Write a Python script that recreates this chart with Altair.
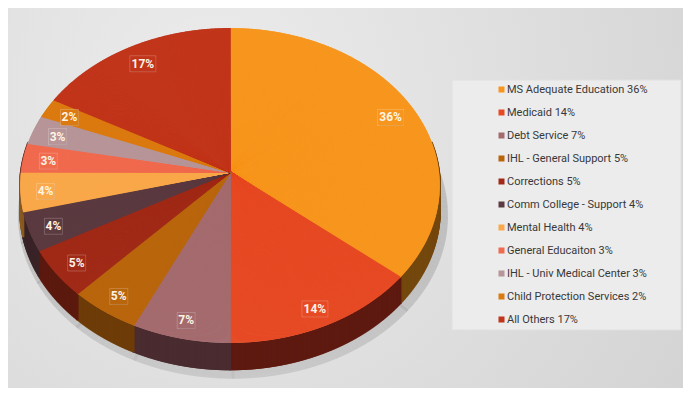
import altair as alt
import pandas as pd
import numpy as np

# ---------------- data ----------------
categories = ["MS Adequate Education", "Medicaid", "Debt Service", "IHL - General Support",
              "Corrections", "Comm College - Support", "Mental Health", "General Educaiton",
              "IHL - Univ Medical Center", "Child Protection Services", "All Others"]
shares = [36, 14, 7, 5, 5, 4, 4, 3, 3, 2, 17]
top_colors = ["#F7961E", "#E64A24", "#A46B6E", "#B9650C", "#A02A17", "#5B3A40",
              "#F9A84A", "#F06A4E", "#B79598", "#DB7A10", "#C1351A"]
side_colors = ["#74480E", "#5E1A10", "#4A2C30", "#6E3C08", "#5C1A0F", "#3A2428",
               "#8A5A22", "#7A3A2A", "#6A5254", "#6E3C08", "#6A1C0E"]

legend_labels = [f"{c} {s}%" for c, s in zip(categories, shares)]

# ---------------- geometry (styles) ----------------
W, H = 675, 380
CX, CY = 222, 164      # apex of the pie
A, B, K, D = 209, 156.3, 0.0857, 25
STEP = 0.07            # sampling step along the rim, in percent

starts = np.concatenate([[0], np.cumsum(shares)[:-1]])
rows = []
for c, lab, s, st, tc, sc in zip(categories, legend_labels, shares, starts, top_colors, side_colors):
    ts = np.append(np.arange(st, st + s, STEP), st + s)
    for t in ts:
        rows.append({"cat": c, "label": lab, "t": float(t), "top": tc, "side": sc})
samples = pd.DataFrame(rows)

slices = pd.DataFrame({
    "cat": categories, "share": shares, "start": starts,
    "top": top_colors, "side": side_colors,
})
slices["pct"] = slices["share"].astype(str) + "%"

xs = alt.Scale(domain=[0, W], nice=False, zero=False)
ys = alt.Scale(domain=[0, H], nice=False, zero=False, reverse=True)

# background
bg = alt.Chart(pd.DataFrame({"a": [0]})).mark_rect(
    fill=alt.Gradient(gradient="radial",
                      stops=[alt.GradientStop(color="#ECECEC", offset=0),
                             alt.GradientStop(color="#D3D3D3", offset=1)],
                      x1=0.3, y1=0.35, x2=0.3, y2=0.35, r1=0, r2=0.85)
).encode(x=alt.value(0), x2=alt.value(W), y=alt.value(0), y2=alt.value(H))

legend_box = alt.Chart(pd.DataFrame({"a": [0]})).mark_rect(
    fill="#ECECEC", stroke="#E0E0E0", strokeWidth=1
).encode(x=alt.value(444), x2=alt.value(673), y=alt.value(72), y2=alt.value(322))

base = alt.Chart(samples).transform_calculate(
    th="datum.t / 100 * 2 * PI",
).transform_calculate(
    s=f"1 / (1 + {K} * cos(datum.th))",
).transform_calculate(
    x=f"{CX} + {A} * sin(datum.th) * datum.s",
    y=f"{CY} - {B} * cos(datum.th) * datum.s",
    x0=f"{CX}",
    y0=f"{CY}",
).transform_calculate(
    yb=f"datum.y + {D} * datum.s",
    xsh=f"{CX} + 1.025 * {A} * sin(datum.th) * datum.s + 3",
    ysh=f"{CY} - 1.02 * {B} * cos(datum.th) * datum.s + {D} * datum.s + 5",
)

shadow = base.transform_filter("cos(datum.th) < 0.35").mark_rule(
    strokeWidth=3, color="#000000", opacity=0.035
).encode(
    x=alt.X("x0:Q", scale=xs, axis=None),
    y=alt.Y("y0:Q", scale=ys, axis=None),
    x2="xsh:Q", y2="ysh:Q",
)

side = base.transform_filter("cos(datum.th) < 0.2").mark_rule(strokeWidth=2.2).encode(
    x=alt.X("x:Q", scale=xs, axis=None),
    y=alt.Y("y:Q", scale=ys, axis=None),
    y2="yb:Q",
    color=alt.Color("side:N", scale=None),
)

top = base.mark_rule(strokeWidth=1.6).encode(
    x=alt.X("x0:Q", scale=xs, axis=None),
    y=alt.Y("y0:Q", scale=ys, axis=None),
    x2="x:Q",
    y2="y:Q",
    color=alt.Color("label:N",
                    scale=alt.Scale(domain=legend_labels, range=top_colors),
                    sort=legend_labels,
                    legend=alt.Legend(title=None, orient="none", legendX=488, legendY=76,
                                      symbolType="square", symbolSize=1, symbolStrokeWidth=5,
                                      labelFontSize=11, labelFont="Roboto", labelColor="#383838",
                                      labelLimit=300, rowPadding=2, padding=0, labelOffset=0)),
)

F, DY = 0.88, 2
lab = alt.Chart(slices).transform_calculate(
    th="(datum.start + datum.share / 2) / 100 * 2 * PI",
).transform_calculate(
    s=f"1 / (1 + {K} * cos(datum.th))",
).transform_calculate(
    lx=f"{CX} + {F} * {A} * sin(datum.th) * datum.s",
    ly=f"{CY} - {F} * {B} * cos(datum.th) * datum.s + {DY}",
    hw="length(datum.pct) * 4 + 1",
).transform_calculate(
    bx1="datum.lx - datum.hw", bx2="datum.lx + datum.hw",
    by1="datum.ly - 8", by2="datum.ly + 8",
)

shadow_box = lab.mark_rect(color="#000000", opacity=0.28, xOffset=2, yOffset=2).encode(
    x=alt.X("bx1:Q", scale=xs, axis=None), x2="bx2:Q",
    y=alt.Y("by1:Q", scale=ys, axis=None), y2="by2:Q",
)
box = lab.mark_rect(stroke="#FFFFFF", strokeOpacity=0.2, strokeWidth=1).encode(
    x=alt.X("bx1:Q", scale=xs, axis=None), x2="bx2:Q",
    y=alt.Y("by1:Q", scale=ys, axis=None), y2="by2:Q",
    fill=alt.Color("top:N", scale=None),
)
txt = lab.mark_text(fontSize=12, fontWeight="bold", font="Roboto", color="#FFF4E4",
                    align="center", baseline="middle").encode(
    x=alt.X("lx:Q", scale=xs, axis=None),
    y=alt.Y("ly:Q", scale=ys, axis=None),
    text="pct:N",
)

chart = alt.layer(bg, legend_box, shadow, side, top, shadow_box, box, txt).properties(
    width=W, height=H, padding=0, autosize="none", background="#DADADA"
).configure_view(stroke=None)

chart.save("out.html", embed_options={"renderer": "svg", "actions": False})
